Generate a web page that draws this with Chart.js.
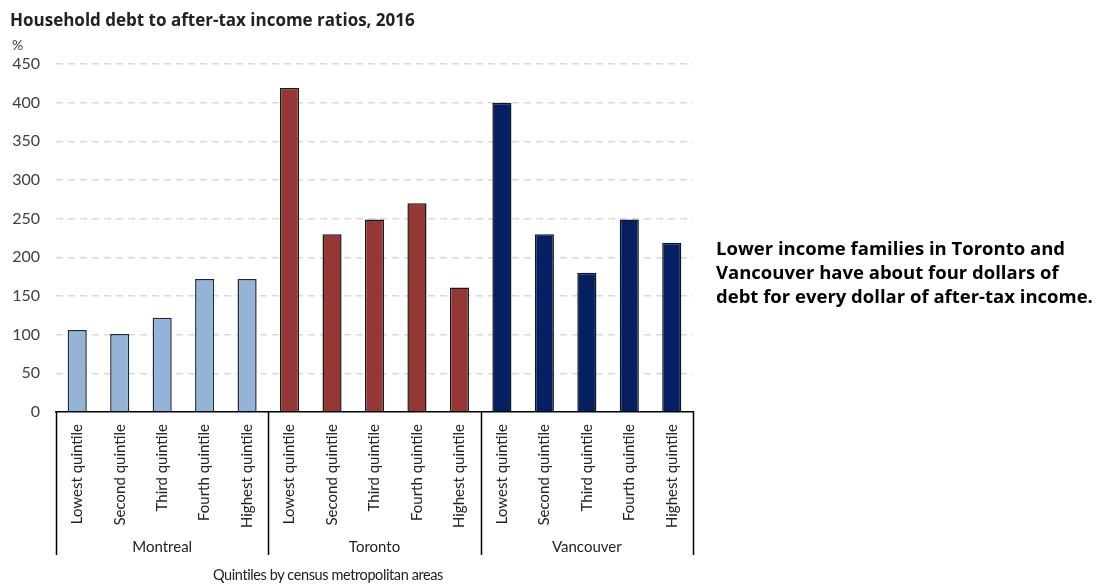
<!DOCTYPE html>
<html>
<head>
<meta charset="utf-8">
<script src="https://cdn.jsdelivr.net/npm/chart.js@4"></script>
<style>
    html, body { margin: 0; padding: 0; background: #fff; }
    #wrap { position: relative; width: 1114px; height: 587px; }
    #debtChart { position: absolute; left: 0; top: 0; }
    .title { position: absolute; left: 10px; top: 8px; font: bold 17px "Open Sans", sans-serif; color: #222; white-space: nowrap; }
    .unit { position: absolute; left: 12px; top: 36px; font: 14px Lato, sans-serif; color: #404040; }
    .note { position: absolute; left: 716px; top: 236px; font: bold 18.5px "Open Sans", sans-serif; line-height: 24px; color: #000; white-space: nowrap; }
    .xtitle { position: absolute; left: 213px; top: 566px; font: 14.5px Lato, sans-serif; letter-spacing: -0.4px; color: #222; white-space: nowrap; }
</style>
</head>
<body>
<div id="wrap">
    <canvas id="debtChart" width="1114" height="587"></canvas>
    <div class="title">Household debt to after-tax income ratios, 2016</div>
    <div class="unit">%</div>
    <div class="note">Lower income families in Toronto and<br>Vancouver have about four dollars of<br>debt for every dollar of after-tax income.</div>
    <div class="xtitle">Quintiles by census metropolitan areas</div>
</div>
<script>
var cities = ["Montreal", "Toronto", "Vancouver"];
var quintiles = ["Lowest quintile", "Second quintile", "Third quintile", "Fourth quintile", "Highest quintile"];
var montreal = [106, 101, 122, 172, 172];
var toronto = [419, 230, 249, 270, 161];
var vancouver = [400, 230, 180, 249, 219];
var yTicks = [0, 50, 100, 150, 200, 250, 300, 350, 400, 450];

var cityFill = ["#95b3d7", "#953735", "#042061"];
var cityBorder = ["#1c2b3c", "#1a1a1a", "#101522"];

var labels = [], values = [], fills = [], borders = [];
[montreal, toronto, vancouver].forEach(function (series, g) {
    series.forEach(function (v, i) {
        labels.push(quintiles[i]);
        values.push(v);
        fills.push(cityFill[g]);
        borders.push(cityBorder[g]);
    });
});

// city brackets under the rotated quintile labels
var cityGroups = {
    id: 'cityGroups',
    afterDraw: function (chart) {
        var ctx = chart.ctx;
        var xs = chart.scales.x;
        var area = chart.chartArea;
        var per = quintiles.length;
        var edges = [];
        for (var g = 0; g <= cities.length; g++) {
            if (g === 0) edges.push(area.left);
            else if (g === cities.length) edges.push(area.right);
            else edges.push((xs.getPixelForValue(g * per - 1) + xs.getPixelForValue(g * per)) / 2);
        }
        ctx.save();
        ctx.strokeStyle = '#000';
        ctx.lineWidth = 1.5;
        edges.forEach(function (x) {
            ctx.beginPath();
            ctx.moveTo(Math.round(x) + 0.5, area.bottom);
            ctx.lineTo(Math.round(x) + 0.5, xs.bottom - 32);
            ctx.stroke();
        });
        ctx.fillStyle = '#222';
        ctx.font = '15px Lato, sans-serif';
        ctx.textAlign = 'center';
        ctx.textBaseline = 'middle';
        cities.forEach(function (c, g) {
            ctx.fillText(c, (edges[g] + edges[g + 1]) / 2, xs.bottom - 40);
        });
        ctx.restore();
    }
};

var chart = new Chart(document.getElementById('debtChart'), {
    type: 'bar',
    data: {
        labels: labels,
        datasets: [{
            data: values,
            backgroundColor: fills,
            borderColor: borders,
            borderWidth: 1.5,
            barPercentage: 0.45,
            categoryPercentage: 1.0
        }]
    },
    options: {
        responsive: false,
        animation: false,
        layout: { padding: { top: 64, right: 421, bottom: 0, left: 0 } },
        plugins: {
            legend: { display: false },
            tooltip: { enabled: false }
        },
        scales: {
            x: {
                grid: { display: false },
                border: { display: true, color: '#000', width: 1.5 },
                ticks: {
                    autoSkip: false,
                    maxRotation: 90,
                    minRotation: 90,
                    padding: 4,
                    color: '#222',
                    font: { family: 'Lato', size: 15 }
                },
                afterFit: function (scale) { scale.height = 175; }
            },
            y: {
                min: yTicks[0],
                max: yTicks[yTicks.length - 1],
                afterBuildTicks: function (scale) {
                    scale.ticks = yTicks.map(function (v) { return { value: v }; });
                },
                grid: {
                    drawTicks: false,
                    lineWidth: 1.5,
                    color: function (c) { return c.tick && c.tick.value === 0 ? 'rgba(0,0,0,0)' : '#d9d9d9'; }
                },
                border: { display: false, dash: [7, 5] },
                ticks: {
                    padding: 16,
                    color: '#404040',
                    font: { family: 'Lato', size: 16 }
                },
                afterFit: function (scale) { scale.width = 56; }
            }
        }
    },
    plugins: [cityGroups]
});
</script>
</body>
</html>
